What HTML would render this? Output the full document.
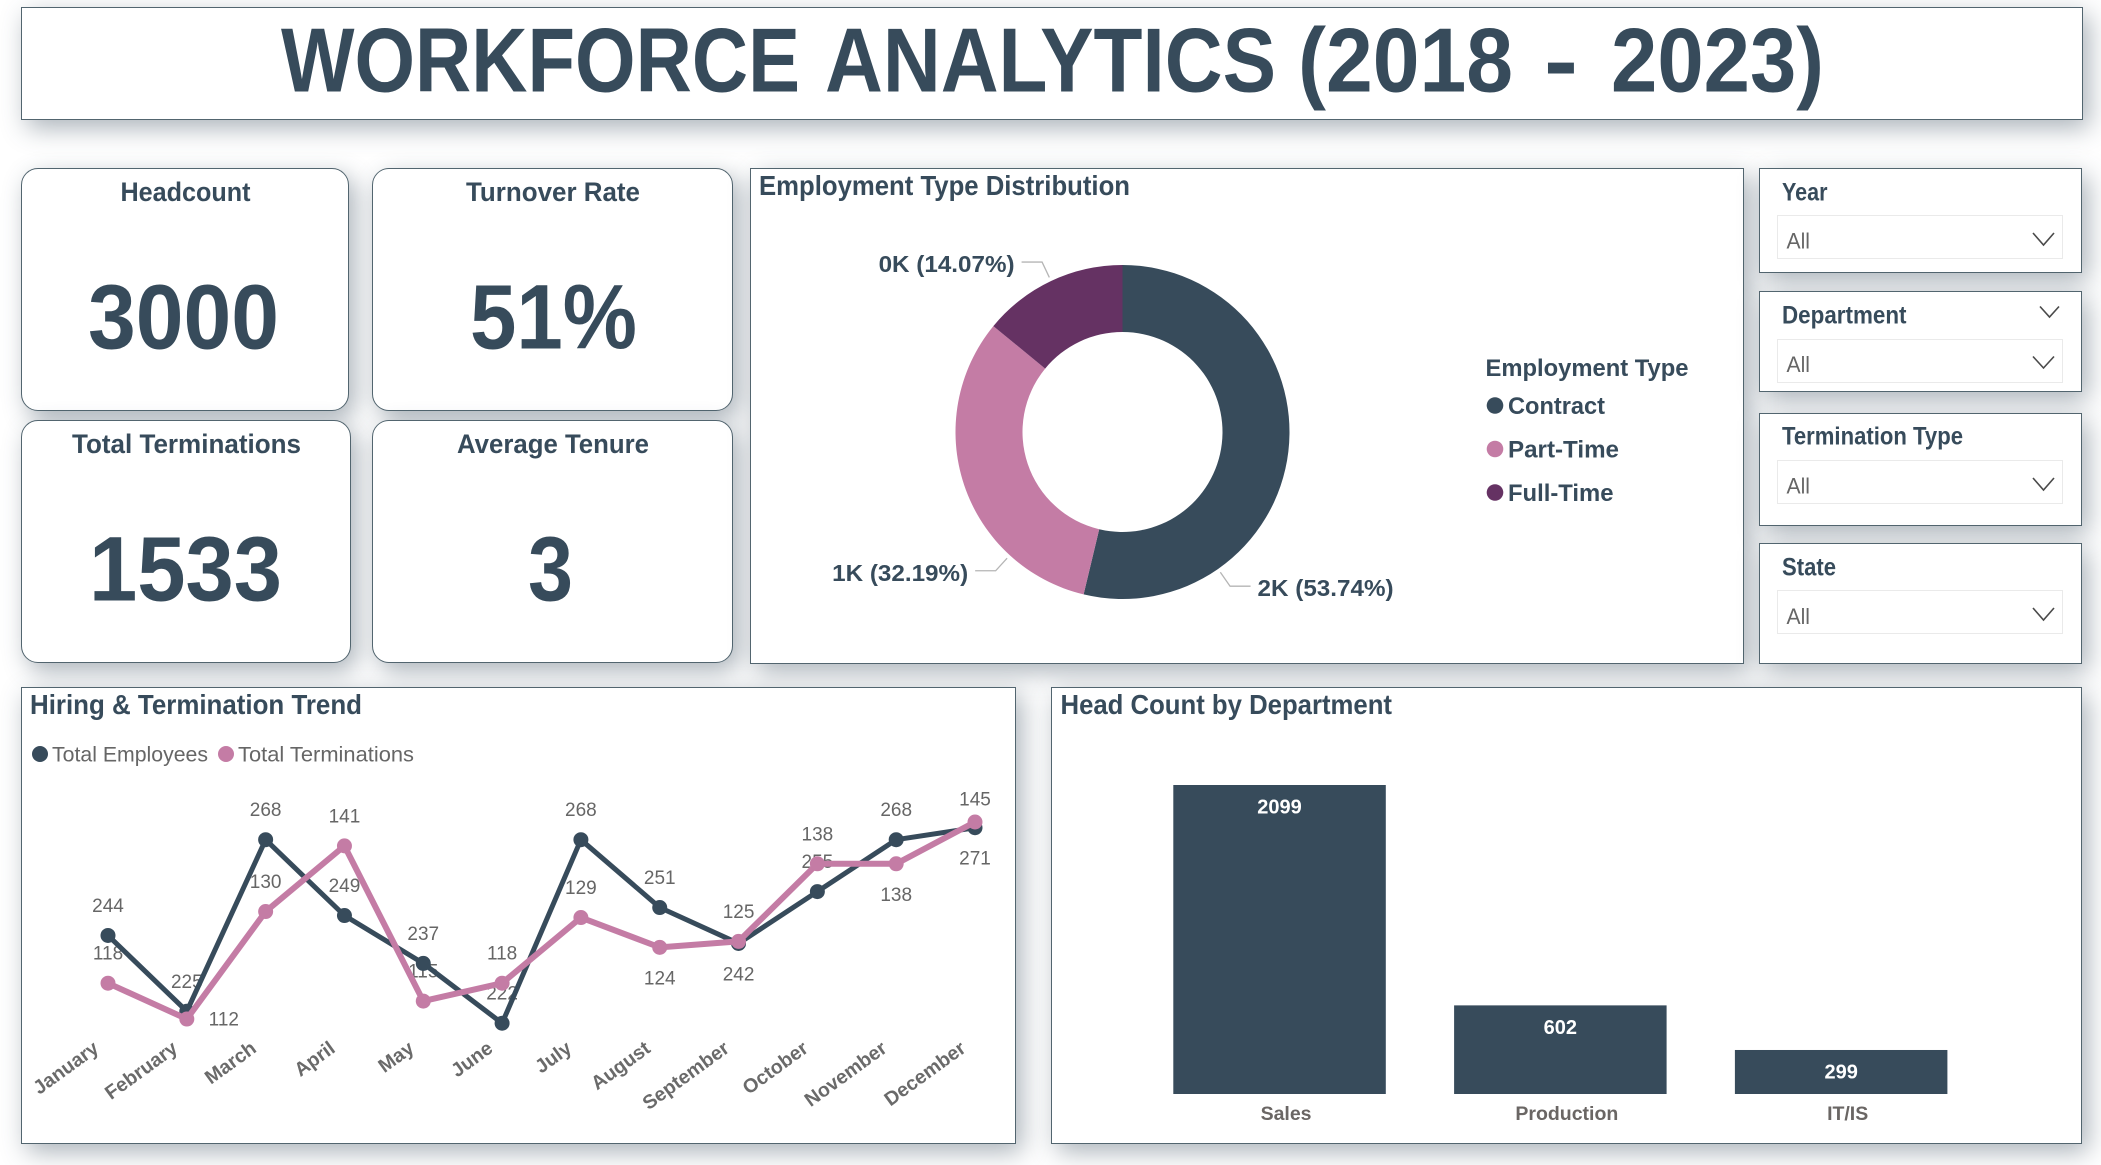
<!DOCTYPE html>
<html lang="en">
<head>
<meta charset="utf-8">
<title>Workforce Analytics (2018 - 2023)</title>
<style>
  html, body { margin: 0; padding: 0; background: #ffffff; }
  #page { position: relative; width: 2101px; height: 1165px; overflow: hidden; background: #ffffff; font-family: "Liberation Sans", sans-serif; }
  .panel { position: absolute; box-sizing: border-box; background: #fff; border: 1.5px solid #52656f; box-shadow: 6px 8px 24px rgba(55, 75, 90, 0.42); }
  .round { border-radius: 17px; }
  .combo { position: absolute; box-sizing: border-box; left: 1777px; width: 286px; height: 44px; border: 1.5px solid #eaeaea; background: #fff; }
  svg#overlay { position: absolute; left: 0; top: 0; }
  svg text { font-family: "Liberation Sans", sans-serif; }
  .dark { fill: #374b5b; font-weight: bold; }
  .grey { fill: #666666; }
  .chev { fill: none; stroke: #4a4a4a; stroke-width: 1.6; }
</style>
</head>
<body>
<div id="page">
  <div class="panel" style="left:21px;top:7px;width:2062px;height:113px"></div>
  <div class="panel round" style="left:21px;top:168px;width:328px;height:243px"></div>
  <div class="panel round" style="left:372px;top:168px;width:361px;height:243px"></div>
  <div class="panel round" style="left:21px;top:420px;width:330px;height:243px"></div>
  <div class="panel round" style="left:372px;top:420px;width:361px;height:243px"></div>
  <div class="panel" style="left:750px;top:168px;width:994px;height:496px"></div>
  <div class="panel" style="left:1759px;top:168px;width:323px;height:105px"></div>
  <div class="panel" style="left:1759px;top:291px;width:323px;height:101px"></div>
  <div class="panel" style="left:1759px;top:413px;width:323px;height:113px"></div>
  <div class="panel" style="left:1759px;top:543px;width:323px;height:121px"></div>
  <div class="combo" style="top:215px"></div>
  <div class="combo" style="top:339px"></div>
  <div class="combo" style="top:460px"></div>
  <div class="combo" style="top:590px"></div>
  <div class="panel" style="left:21px;top:687px;width:995px;height:457px"></div>
  <div class="panel" style="left:1051px;top:687px;width:1031px;height:457px"></div>

  <svg id="overlay" width="2101" height="1165" viewBox="0 0 2101 1165" xmlns="http://www.w3.org/2000/svg">
    <g>
      <text class="dark" x="281" y="91.5" font-size="91" textLength="519" lengthAdjust="spacingAndGlyphs">WORKFORCE</text>
      <text class="dark" x="825" y="91.5" font-size="91" textLength="451" lengthAdjust="spacingAndGlyphs">ANALYTICS</text>
      <text class="dark" x="1298" y="91.5" font-size="91" textLength="215" lengthAdjust="spacingAndGlyphs">(2018</text>
      <text class="dark" x="1544" y="91.5" font-size="91" textLength="34" lengthAdjust="spacingAndGlyphs">-</text>
      <text class="dark" x="1611" y="91.5" font-size="91" textLength="213" lengthAdjust="spacingAndGlyphs">2023)</text>
    </g>

    <text class="dark" x="120.5" y="201" font-size="27" textLength="130" lengthAdjust="spacingAndGlyphs">Headcount</text>
    <text class="dark" x="88" y="348.5" font-size="92" textLength="191" lengthAdjust="spacingAndGlyphs">3000</text>
    <text class="dark" x="466" y="201" font-size="27" textLength="174" lengthAdjust="spacingAndGlyphs">Turnover Rate</text>
    <text class="dark" x="470" y="348.5" font-size="92" textLength="167" lengthAdjust="spacingAndGlyphs">51%</text>
    <text class="dark" x="72" y="453" font-size="27" textLength="229" lengthAdjust="spacingAndGlyphs">Total Terminations</text>
    <text class="dark" x="89" y="600.5" font-size="92" textLength="193" lengthAdjust="spacingAndGlyphs">1533</text>
    <text class="dark" x="457" y="453" font-size="27" textLength="192" lengthAdjust="spacingAndGlyphs">Average Tenure</text>
    <text class="dark" x="528" y="600.5" font-size="92" textLength="45" lengthAdjust="spacingAndGlyphs">3</text>

    <text class="dark" x="759" y="195" font-size="28" textLength="371" lengthAdjust="spacingAndGlyphs">Employment Type Distribution</text>
    <g id="donut"></g>
    <text class="dark" x="1485.5" y="376" font-size="24" textLength="203" lengthAdjust="spacingAndGlyphs">Employment Type</text>
    <g id="donut-legend"></g>

    <text class="dark" x="1782" y="200.5" font-size="25" textLength="45.5" lengthAdjust="spacingAndGlyphs">Year</text>
    <text class="grey" x="1786.5" y="248.5" font-size="22" textLength="23.5" lengthAdjust="spacingAndGlyphs">All</text>
    <polyline class="chev" points="2033,233 2043.5,245 2054,233"/>

    <text class="dark" x="1782" y="323.5" font-size="25" textLength="124.5" lengthAdjust="spacingAndGlyphs">Department</text>
    <polyline class="chev" points="2040,306.5 2049.5,317 2059,306.5"/>
    <text class="grey" x="1786.5" y="372" font-size="22" textLength="23.5" lengthAdjust="spacingAndGlyphs">All</text>
    <polyline class="chev" points="2033,356.5 2043.5,368 2054,356.5"/>

    <text class="dark" x="1782" y="444.5" font-size="25" textLength="181" lengthAdjust="spacingAndGlyphs">Termination Type</text>
    <text class="grey" x="1786.5" y="493.5" font-size="22" textLength="23.5" lengthAdjust="spacingAndGlyphs">All</text>
    <polyline class="chev" points="2033,478 2043.5,490 2054,478"/>

    <text class="dark" x="1782" y="575.5" font-size="25" textLength="54" lengthAdjust="spacingAndGlyphs">State</text>
    <text class="grey" x="1786.5" y="624" font-size="22" textLength="23.5" lengthAdjust="spacingAndGlyphs">All</text>
    <polyline class="chev" points="2033,608 2043.5,620 2054,608"/>

    <text class="dark" x="30" y="714" font-size="28" textLength="332" lengthAdjust="spacingAndGlyphs">Hiring &amp; Termination Trend</text>
    <circle cx="40" cy="754" r="8" fill="#374b5b"/>
    <text class="grey" x="52" y="761.5" font-size="21" textLength="156" lengthAdjust="spacingAndGlyphs">Total Employees</text>
    <circle cx="226" cy="754" r="8" fill="#c47ca5"/>
    <text class="grey" x="238" y="761.5" font-size="21" textLength="176" lengthAdjust="spacingAndGlyphs">Total Terminations</text>
    <g id="trend"></g>

    <text class="dark" x="1060.5" y="714" font-size="28" textLength="331.5" lengthAdjust="spacingAndGlyphs">Head Count by Department</text>
    <g id="bars"></g>
  </svg>
</div>
<script>
// Line chart data
const months = ['January','February','March','April','May','June','July','August','September','October','November','December'];
const totalEmployees = [244,225,268,249,237,222,268,251,242,255,268,271];
const totalTerminations = [118,112,130,141,115,118,129,124,125,138,138,145];
const employeeLabelSides = ['above','above','above','above','above','above','above','above','below','above','above','below'];
const terminationLabelSides = ['above','right','above','above','above','above','above','below','above','above','below','above'];

// Donut data
const employmentTypes = ['Contract','Part-Time','Full-Time'];
const employmentShares = [53.74,32.19,14.07];
const employmentLabels = ['2K (53.74%)','1K (32.19%)','0K (14.07%)'];
const labelAnchorWithinSlice = [0.75,0.25,0.5];

// Bar chart data
const departments = ['Sales','Production','IT/IS'];
const departmentCounts = [2099,602,299];

const SVG_NS = 'http://www.w3.org/2000/svg';
const DARK = '#374b5b', PINK = '#c47ca5', PURPLE = '#653263';
function make(tag, attrs, parent, text) {
  const el = document.createElementNS(SVG_NS, tag);
  for (const k in attrs) el.setAttribute(k, attrs[k]);
  if (text !== undefined) el.textContent = text;
  parent.appendChild(el);
  return el;
}

/* ---------- Trend chart ---------- */
const trend = document.getElementById('trend');
const xMonth = i => 108 + i * (975 - 108) / (months.length - 1);
const yEmployees = v => 839.7 + (268 - v) * 3.99;
const yTerminations = v => 822 + (145 - v) * 5.97;
const LABEL_TOP_LIMIT = 805.5;

function drawPointLabels(values, yFn, sides, series) {
  values.forEach((v, i) => {
    const side = sides[i];
    const x = xMonth(i) + (side === 'right' ? 37 : 0);
    const y = Math.max(LABEL_TOP_LIMIT, yFn(v) + (side === 'above' ? -23.5 : side === 'below' ? 37 : 6.5));
    const t = make('text', { x: x, y: y, 'text-anchor': 'middle', 'font-size': 19, fill: '#666666' }, trend, v);
    
    
  });
}
function drawSeries(values, yFn, color, width, series) {
  const pts = values.map((v, i) => xMonth(i) + ',' + yFn(v)).join(' ');
  const line = make('polyline', { points: pts, fill: 'none', stroke: color, 'stroke-width': width, 'stroke-linejoin': 'round' }, trend);
  
  
  values.forEach((v, i) => {
    const c = make('circle', { cx: xMonth(i), cy: yFn(v), r: 7.5, fill: color }, trend);
    
    
  });
}
drawPointLabels(totalEmployees, yEmployees, employeeLabelSides, 'employees');
drawPointLabels(totalTerminations, yTerminations, terminationLabelSides, 'terminations');
drawSeries(totalEmployees, yEmployees, DARK, 5, 'employees');
drawSeries(totalTerminations, yTerminations, PINK, 6, 'terminations');
months.forEach((m, i) => {
  const x = xMonth(i) - 8, y = 1051;
  const t = make('text', { x: x, y: y, 'text-anchor': 'end', 'font-size': 19.6, 'font-weight': 'bold', fill: '#6a6a6a', transform: 'rotate(-36 ' + x + ' ' + y + ')' }, trend, m);
  
  
});

/* ---------- Donut ---------- */
const donut = document.getElementById('donut');
const donutLegend = document.getElementById('donut-legend');
const CX = 1122.5, CY = 432, R_OUT = 167, R_IN = 100;
const sliceColors = [DARK, PINK, PURPLE];
const shareTotal = employmentShares.reduce((a, b) => a + b, 0);
const polar = (pct, r) => {
  const a = pct / shareTotal * 2 * Math.PI;
  return [CX + r * Math.sin(a), CY - r * Math.cos(a)];
};
let cumulative = 0;
employmentShares.forEach((s, i) => {
  const start = cumulative, end = cumulative + s;
  const large = s / shareTotal > 0.5 ? 1 : 0;
  const p1 = polar(start, R_OUT), p2 = polar(end, R_OUT), p3 = polar(end, R_IN), p4 = polar(start, R_IN);
  const d = 'M' + p1 + ' A' + R_OUT + ' ' + R_OUT + ' 0 ' + large + ' 1 ' + p2 + ' L' + p3 + ' A' + R_IN + ' ' + R_IN + ' 0 ' + large + ' 0 ' + p4 + ' Z';
  const slice = make('path', { d: d, fill: sliceColors[i] }, donut);
  
  

  const anchorPct = start + s * labelAnchorWithinSlice[i];
  const a = polar(anchorPct, R_OUT + 4), b = polar(anchorPct, R_OUT + 21);
  const dir = b[0] >= CX ? 1 : -1;
  const c = [b[0] + dir * 20.5, b[1]];
  const leader = make('polyline', { points: a + ' ' + b + ' ' + c, fill: 'none', stroke: '#b5b5b5', 'stroke-width': 1.3 }, donut);
  
  
  const label = make('text', { x: c[0] + dir * 7, y: c[1] + 10, 'text-anchor': dir > 0 ? 'start' : 'end', 'font-size': 23, textLength: 136, lengthAdjust: 'spacingAndGlyphs', class: 'dark' }, donut, employmentLabels[i]);
  
  

  const ly = 405.5 + i * 43.5;
  const dot = make('circle', { cx: 1495, cy: ly, r: 8.3, fill: sliceColors[i] }, donutLegend);
  
  
  const entry = make('text', { x: 1508, y: ly + 8.5, 'font-size': 24, class: 'dark', textLength: [97, 111, 105.5][i], lengthAdjust: 'spacingAndGlyphs' }, donutLegend, employmentTypes[i]);
  
  
  cumulative = end;
});

/* ---------- Bars ---------- */
const bars = document.getElementById('bars');
const BAR_BASE = 1094;
const PX_PER_UNIT = 309 / 2099;
const xBar = i => 1173.3 + i * 280.8;
const BAR_W = 212.5;
const yBar = v => BAR_BASE - v * PX_PER_UNIT;
departments.forEach((d, i) => {
  const v = departmentCounts[i];
  const key = d.toLowerCase().replace('/', '-');
  const rect = make('rect', { x: xBar(i), y: yBar(v), width: BAR_W, height: BAR_BASE - yBar(v), fill: DARK }, bars);
  
  
  const value = make('text', { x: xBar(i) + BAR_W / 2, y: yBar(v) + 28.5, 'text-anchor': 'middle', 'font-size': 20, 'font-weight': 'bold', fill: '#ffffff' }, bars, v);
  
  
  const cat = make('text', { x: xBar(i) + BAR_W / 2 + 6.5, y: 1120, 'text-anchor': 'middle', 'font-size': 19.5, 'font-weight': 'bold', fill: '#6a6664' }, bars, d);
  
  
});
</script>
</body>
</html>
